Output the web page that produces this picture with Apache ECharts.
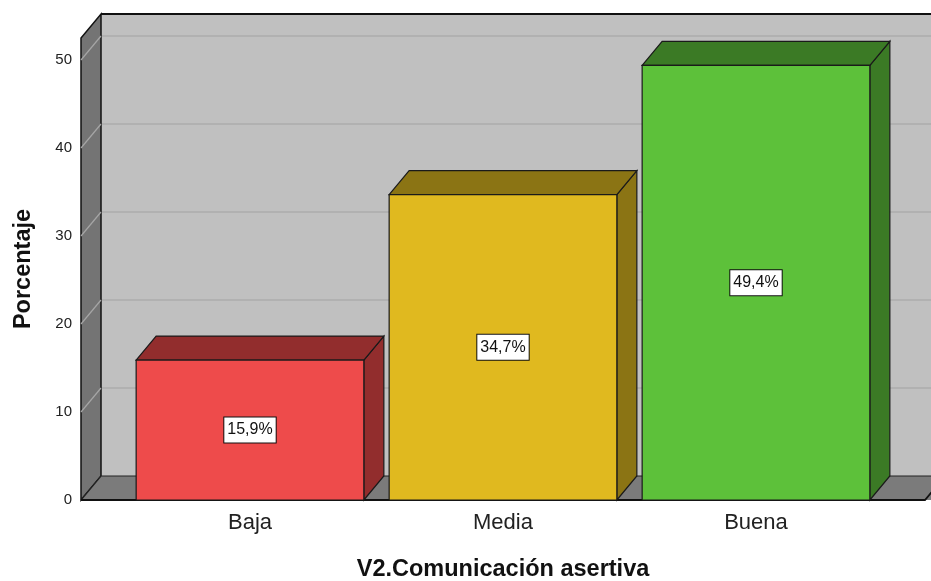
<!DOCTYPE html>
<html>
<head>
<meta charset="utf-8">
<script src="https://cdn.jsdelivr.net/npm/echarts@6/dist/echarts.min.js"></script>
<style>
  html, body { margin: 0; padding: 0; background: #fff; }
  #chart { width: 931px; height: 581px; }
</style>
</head>
<body>
<div id="chart"></div>
<script>
const categories = ["Baja", "Media", "Buena"];
const percentages = [15.9, 34.7, 49.4];
const yTicks = [0, 10, 20, 30, 40, 50];
const yMax = 52.5;

const frontColors = ["#ee4b4b", "#e0b91f", "#5dc13a"];
const sideColors = ["#922d2d", "#8b7414", "#3b7a25"];

// 3D depth offsets (pixels)
const DX = 20;
const DY = -24;
const PAD = 42.5;
const FONT = "Liberation Sans, Arial, sans-serif";

const chart = echarts.init(document.getElementById("chart"));

const renderFrame = (params, api) => {
  const cs = params.coordSys;
  const x0 = cs.x - PAD;
  const xR = cs.x + cs.width + PAD;
  const y0 = api.coord([0, 0])[1];
  const yTop = api.coord([0, yMax])[1];
  const farRight = xR + DX + 40;
  const children = [
    {
      type: "rect",
      shape: { x: x0 + DX, y: yTop + DY, width: farRight - x0 - DX, height: y0 - yTop },
      style: { fill: "#c0c0c0" },
    },
  ];
  yTicks.forEach((t) => {
    if (t === 0) return;
    const y = api.coord([0, t])[1];
    children.push({
      type: "line",
      shape: { x1: x0 + DX, y1: y + DY, x2: farRight, y2: y + DY },
      style: { stroke: "#adadad", lineWidth: 1.5 },
    });
  });
  children.push({
    type: "polygon",
    shape: { points: [[x0, y0], [x0, yTop], [x0 + DX, yTop + DY], [x0 + DX, y0 + DY]] },
    style: { fill: "#747474", stroke: "#111", lineWidth: 1.5 },
  });
  yTicks.forEach((t) => {
    if (t === 0) return;
    const y = api.coord([0, t])[1];
    children.push({
      type: "line",
      shape: { x1: x0, y1: y, x2: x0 + DX, y2: y + DY },
      style: { stroke: "#a6a6a6", lineWidth: 1.2 },
    });
  });
  children.push(
    {
      type: "polygon",
      shape: { points: [[x0, y0], [x0 + DX, y0 + DY], [farRight, y0 + DY], [farRight, y0], [xR, y0]] },
      style: { fill: "#7b7b7b" },
    },
    {
      type: "polyline",
      shape: { points: [[x0, y0], [x0 + DX, y0 + DY], [farRight, y0 + DY]] },
      style: { stroke: "#222", lineWidth: 1.2, fill: null },
    },
    {
      type: "polyline",
      shape: { points: [[x0, y0], [xR, y0], [xR + DX, y0 + DY]] },
      style: { stroke: "#111", lineWidth: 1.8, fill: null },
    },
    {
      type: "line",
      shape: { x1: x0 + DX, y1: yTop + DY, x2: farRight, y2: yTop + DY },
      style: { stroke: "#111", lineWidth: 1.8 },
    }
  );
  return { type: "group", children };
};

const renderBar = (params, api) => {
  const idx = api.value(0);
  const val = api.value(1);
  const top = api.coord([idx, val]);
  const base = api.coord([idx, 0]);
  const w = api.size([1, 0])[0] * 0.9;
  const x1 = top[0] - w / 2;
  const x2 = top[0] + w / 2;
  const yT = top[1];
  const yB = base[1];
  const mid = api.coord([idx, val / 2])[1];
  const stroke = { stroke: "#1a1a1a", lineWidth: 1.2 };
  return {
    type: "group",
    children: [
      {
        type: "polygon",
        shape: { points: [[x2, yT], [x2 + DX, yT + DY], [x2 + DX, yB + DY], [x2, yB]] },
        style: Object.assign({ fill: sideColors[idx] }, stroke),
      },
      {
        type: "polygon",
        shape: { points: [[x1, yT], [x1 + DX, yT + DY], [x2 + DX, yT + DY], [x2, yT]] },
        style: Object.assign({ fill: sideColors[idx] }, stroke),
      },
      {
        type: "rect",
        shape: { x: x1, y: yT, width: w, height: yB - yT },
        style: Object.assign({ fill: frontColors[idx] }, stroke),
      },
      {
        type: "text",
        x: top[0],
        y: mid,
        style: {
          text: val.toFixed(1).replace(".", ",") + "%",
          align: "center",
          verticalAlign: "middle",
          fontFamily: FONT,
          fontSize: 16,
          fill: "#111",
          backgroundColor: "#fff",
          borderColor: "#111",
          borderWidth: 1,
          padding: [5, 3, 4, 3],
        },
      },
    ],
  };
};

const option = {
  animation: false,
  grid: { left: 123.5, right: 48.5, top: 38, bottom: 81, outerBoundsMode: "none", containLabel: false },
  xAxis: {
    type: "category",
    data: categories,
    name: "V2.Comunicación asertiva",
    nameLocation: "middle",
    nameGap: 58,
    nameTextStyle: { fontFamily: FONT, fontSize: 23.5, fontWeight: "bold", color: "#111" },
    axisLine: { show: false },
    axisTick: { show: false },
    axisLabel: { fontFamily: FONT, fontSize: 22, color: "#222", margin: 12 },
  },
  yAxis: {
    type: "value",
    min: 0,
    max: yMax,
    interval: 10,
    offset: PAD,
    name: "Porcentaje",
    nameLocation: "middle",
    nameRotate: 90,
    nameGap: 45,
    nameTextStyle: { fontFamily: FONT, fontSize: 23.5, fontWeight: "bold", color: "#111" },
    axisLine: { show: false },
    axisTick: { show: false },
    splitLine: { show: false },
    axisLabel: {
      fontFamily: FONT,
      fontSize: 15,
      color: "#222",
      margin: 9,
      padding: [5, 0, 0, 0],
      showMaxLabel: false,
      formatter: (v) => (yTicks.includes(v) ? String(v) : ""),
    },
  },
  series: [
    {
      type: "custom",
      z: 1,
      silent: true,
      data: [[0, 0]],
      renderItem: renderFrame,
    },
    {
      type: "custom",
      z: 2,
      data: percentages.map((v, i) => [i, v]),
      encode: { x: 0, y: 1 },
      renderItem: renderBar,
    },
  ],
};

chart.setOption(option);
</script>
</body>
</html>
